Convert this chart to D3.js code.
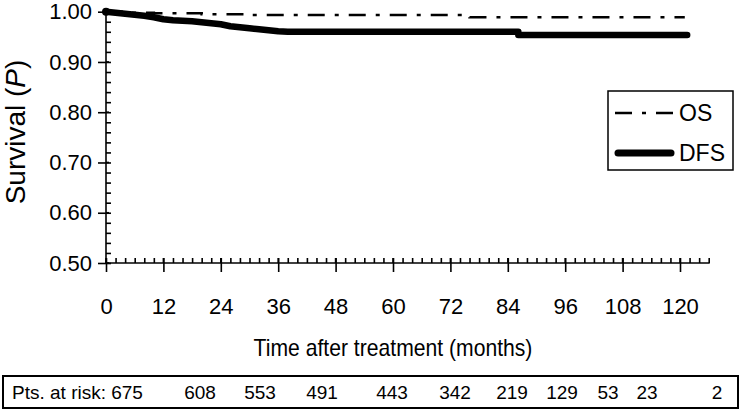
<!DOCTYPE html>
<html>
<head>
<meta charset="utf-8">
<script src="https://d3js.org/d3.v7.min.js"></script>
<style>
body { margin: 0; background: #fff; }
svg { font-family: "Liberation Sans", Arial, sans-serif; }
.axis path, .axis line { stroke: #000; stroke-width: 1.6; }
.axis text { font-size: 22px; fill: #000; }
</style>
</head>
<body>
<div id="chart"></div>
<script>
// KM curves (months, survival probability)
var osTime  = [0, 4, 10, 20, 30, 76, 121];
var osSurv  = [1.0, 0.998, 0.997, 0.995, 0.9935, 0.989, 0.989];

var dfsTime = [0, 2, 4, 6, 8, 10, 12, 14, 16, 18, 20, 22, 24, 26, 28, 30, 32, 34, 36, 38, 86.2, 86.2, 121.5];
var dfsSurv = [1.0, 0.998, 0.996, 0.994, 0.992, 0.989, 0.985, 0.983, 0.982, 0.981, 0.979, 0.977, 0.975,
               0.971, 0.969, 0.967, 0.965, 0.963, 0.961, 0.960, 0.960, 0.9535, 0.9535];

var xTicks = [0, 12, 24, 36, 48, 60, 72, 84, 96, 108, 120];
var yTicks = [0.5, 0.6, 0.7, 0.8, 0.9, 1.0];

var riskCounts = [675, 608, 553, 491, 443, 342, 219, 129, 53, 23, 2];
// label centres inside the at-risk box (the source typed them with spaces)
var riskLabelX = [127, 200, 260, 322, 392, 455, 512, 562, 608, 647, 717];

var W = 742, H = 413;

var svg = d3.select("#chart").append("svg")
    .attr("width", W)
    .attr("height", H);

var x = d3.scaleLinear().domain([0, 126]).range([106, 708.7]);
var y = d3.scaleLinear().domain([0.5, 1.0]).range([263, 11.7]);

// y axis: minor ticks inside, major ticks across
svg.append("g")
    .attr("class", "axis")
    .attr("transform", "translate(106,0)")
    .call(d3.axisRight(y).tickValues(d3.range(0.5, 1.001, 0.02)).tickSize(5).tickFormat(""))
    .call(function(g) { g.select(".domain").remove(); });

svg.append("g")
    .attr("class", "axis")
    .attr("transform", "translate(106,0)")
    .call(d3.axisLeft(y).tickValues(yTicks).tickSize(8).tickPadding(6).tickFormat(d3.format(".2f")))
    .call(function(g) { g.select(".domain").attr("d", "M0," + y(0.5) + "V" + y(1.0)); });

svg.append("g")
    .attr("class", "axis")
    .selectAll("line.maj")
    .data(yTicks)
    .enter().append("line")
      .attr("x1", 106).attr("x2", 109)
      .attr("y1", function(d) { return y(d); })
      .attr("y2", function(d) { return y(d); });

// x axis
svg.append("g")
    .attr("class", "axis")
    .attr("transform", "translate(0,263)")
    .call(d3.axisTop(x).tickValues(d3.range(0, 127, 2)).tickSize(5).tickFormat(""))
    .call(function(g) { g.select(".domain").remove(); });

svg.append("g")
    .attr("class", "axis")
    .attr("transform", "translate(0,263)")
    .call(d3.axisBottom(x).tickValues(xTicks).tickSize(9).tickPadding(26).tickFormat(d3.format("d")))
    .call(function(g) { g.select(".domain").attr("d", "M" + x(0) + ",0H" + (x(126) + 1)); });

svg.append("g")
    .attr("class", "axis")
    .selectAll("line")
    .data(xTicks)
    .enter().append("line")
      .attr("x1", function(d) { return x(d); })
      .attr("x2", function(d) { return x(d); })
      .attr("y1", 258).attr("y2", 263);

// axis titles (source font is a bit condensed)
svg.append("text")
    .attr("transform", "translate(393,356) scale(0.92,1)")
    .attr("text-anchor", "middle")
    .style("font-size", "23px")
    .text("Time after treatment (months)");

var yl = svg.append("text")
    .attr("transform", "translate(25,132) rotate(-90)")
    .attr("text-anchor", "middle")
    .style("font-size", "28px");
yl.append("tspan").text("Survival (");
yl.append("tspan").style("font-style", "italic").text("P");
yl.append("tspan").text(")");

// curves
var osData = osTime.map(function(t, i) { return [t, osSurv[i]]; });
var dfsData = dfsTime.map(function(t, i) { return [t, dfsSurv[i]]; });

var line = d3.line()
    .x(function(d) { return x(d[0]); })
    .y(function(d) { return y(d[1]); });

svg.append("path")
    .datum(osData)
    .attr("fill", "none")
    .attr("stroke", "#000")
    .attr("stroke-width", 2.6)
    .attr("stroke-dasharray", "17,10,4,10")
    .attr("d", line.curve(d3.curveStepAfter));

svg.append("path")
    .datum(dfsData)
    .attr("fill", "none")
    .attr("stroke", "#000")
    .attr("stroke-width", 6.5)
    .attr("stroke-linecap", "round")
    .attr("stroke-linejoin", "round")
    .attr("d", line.curve(d3.curveLinear));

svg.append("circle")
    .attr("cx", x(0)).attr("cy", y(1.0)).attr("r", 4);

// legend
var leg = svg.append("g");
leg.append("rect")
    .attr("x", 608).attr("y", 91).attr("width", 125).attr("height", 79)
    .attr("fill", "#fff").attr("stroke", "#000").attr("stroke-width", 1.5);
leg.append("line")
    .attr("x1", 615).attr("x2", 673).attr("y1", 113).attr("y2", 113)
    .attr("stroke", "#000").attr("stroke-width", 2.6)
    .attr("stroke-dasharray", "17,10,4,10");
leg.append("line")
    .attr("x1", 618).attr("x2", 671).attr("y1", 153).attr("y2", 153)
    .attr("stroke", "#000").attr("stroke-width", 7)
    .attr("stroke-linecap", "round");
leg.append("text").attr("x", 679).attr("y", 121).style("font-size", "23px").text("OS");
leg.append("text").attr("x", 679).attr("y", 161).style("font-size", "23px").text("DFS");

// patients at risk
svg.append("rect")
    .attr("x", 3).attr("y", 376).attr("width", 735).attr("height", 32)
    .attr("fill", "none").attr("stroke", "#000").attr("stroke-width", 2);

svg.append("text")
    .attr("x", 12).attr("y", 399)
    .style("font-size", "19px")
    .text("Pts. at risk:");

svg.selectAll("text.risk")
    .data(riskCounts)
    .enter().append("text")
      .attr("class", "risk")
      .attr("x", function(d, i) { return riskLabelX[i]; })
      .attr("y", 399)
      .attr("text-anchor", "middle")
      .style("font-size", "19px")
      .text(function(d) { return d; });
</script>
</body>
</html>
